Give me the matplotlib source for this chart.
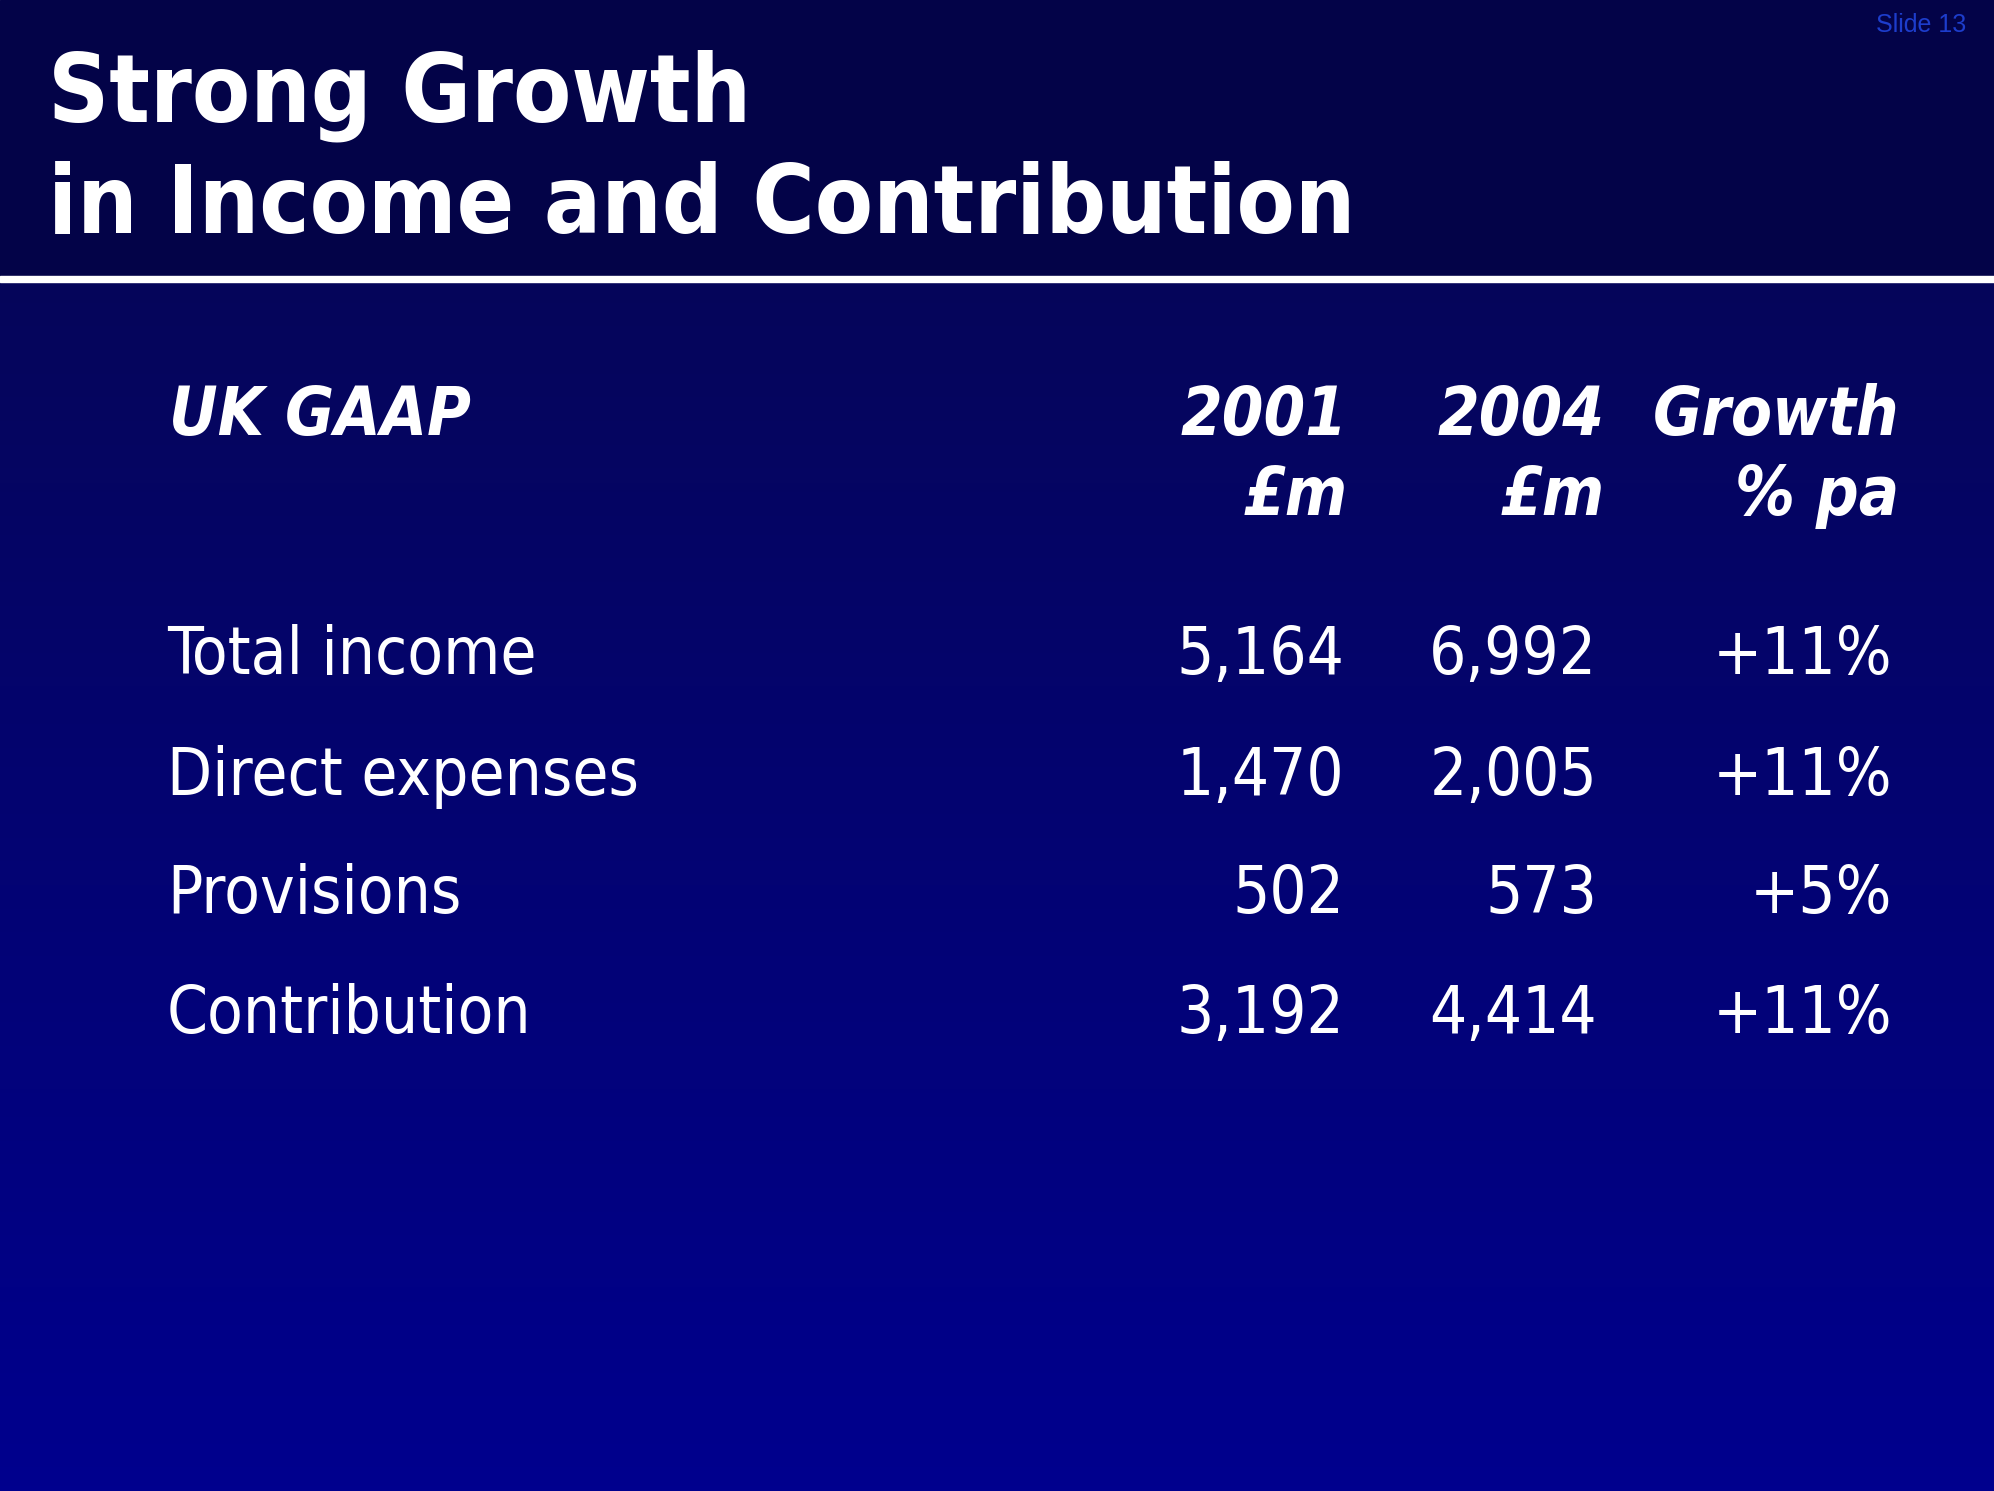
import numpy as np
import matplotlib
matplotlib.use("Agg")
import matplotlib.pyplot as plt
from matplotlib.colors import LinearSegmentedColormap

# table content
title_lines = ["Strong Growth", "in Income and Contribution"]
header_label = "UK GAAP"
col_heads = [("2001", "£m"), ("2004", "£m"), ("Growth", "% pa")]
row_labels = ["Total income", "Direct expenses", "Provisions", "Contribution"]
vals_2001 = ["5,164", "1,470", "502", "3,192"]
vals_2004 = ["6,992", "2,005", "573", "4,414"]
growth = ["+11%", "+11%", "+5%", "+11%"]
slide_no = "Slide 13"

W, H = 1994, 1491
fig = plt.figure(figsize=(W / 100, H / 100), dpi=100)
ax = fig.add_axes([0, 0, 1, 1])
ax.set_xlim(0, W)
ax.set_ylim(H, 0)
ax.axis("off")

# background: dark header band, gradient body
hdr = np.array([3, 3, 72]) / 255
top = np.array([6, 6, 90]) / 255
bot = np.array([0, 0, 142]) / 255
cmap = LinearSegmentedColormap.from_list("bg", [top, bot])
ax.imshow(np.linspace(0, 1, 256)[:, None], cmap=cmap, aspect="auto",
          extent=[0, W, H, 279], zorder=0)
ax.add_patch(plt.Rectangle((0, 0), W, 279, color=hdr, zorder=1))
ax.add_patch(plt.Rectangle((0, 276), W, 6, color="white", zorder=2))

font = "DejaVu Sans"
st = "condensed"

for i, line in enumerate(title_lines):
    ax.text(48, 121 + i * 112, line, color="white", fontsize=68, fontweight="bold",
            family=font, fontstretch=st, va="baseline", ha="left", zorder=3)

ax.text(1966, 32, slide_no, color="#1d3dcc", fontsize=18, family="Liberation Sans",
        va="baseline", ha="right", zorder=3)

# header row
hkw = dict(color="white", fontsize=48, fontweight="bold", fontstyle="italic",
           family=font, fontstretch=st, va="baseline", zorder=3)
ax.text(169, 435, header_label, ha="left", **hkw)
head_x = [1348, 1605, 1899]
for x, (a, b) in zip(head_x, col_heads):
    ax.text(x, 435, a, ha="right", **hkw)
    ax.text(x, 515, b, ha="right", **hkw)

# body rows
rkw = dict(color="white", fontsize=47, family=font, fontstretch=st,
           va="baseline", zorder=3)
row_y = [674, 795, 913, 1033]
val_x = [1344, 1597, 1892]
for y, lab, v1, v2, g in zip(row_y, row_labels, vals_2001, vals_2004, growth):
    ax.text(167, y, lab, ha="left", **rkw)
    for x, v in zip(val_x, (v1, v2, g)):
        ax.text(x, y, v, ha="right", **rkw)

fig.savefig("out.png", dpi=100)
